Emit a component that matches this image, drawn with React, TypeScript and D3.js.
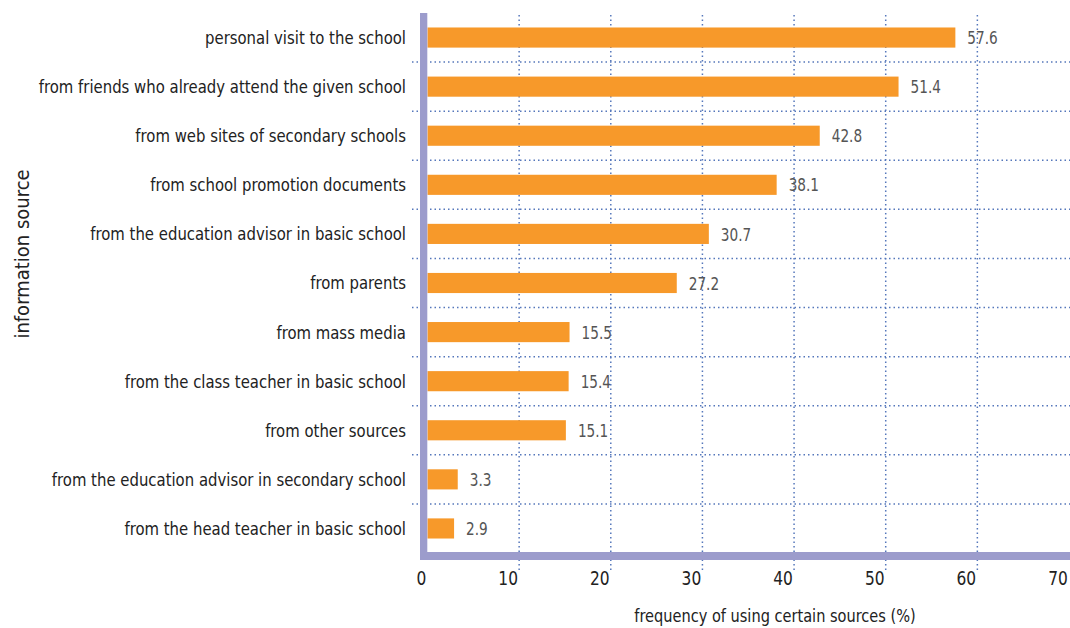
import React from "react";
import * as d3 from "d3";

const categories = [
  "personal visit to the school",
  "from friends who already attend the given school",
  "from web sites of secondary schools",
  "from school promotion documents",
  "from the education advisor in basic school",
  "from parents",
  "from mass media",
  "from the class teacher in basic school",
  "from other sources",
  "from the education advisor in secondary school",
  "from the head teacher in basic school",
];
const values = [57.6, 51.4, 42.8, 38.1, 30.7, 27.2, 15.5, 15.4, 15.1, 3.3, 2.9];
const xTicks = [0, 10, 20, 30, 40, 50, 60, 70];
const xTitle = "frequency of using certain sources (%)";
const yTitle = "information source";

const W = 1070;
const H = 628;
const FONT = "'DejaVu Sans Condensed', 'Liberation Sans Narrow', sans-serif";

function T(props: { x: number; y: number; sx?: number; rotate?: number; anchor?: string; size: number; fill: string; dy?: string; children: any }) {
  const { x, y, sx = 0.9, rotate = 0, anchor = "start", size, fill, dy, children } = props;
  return (
    <text
      transform={`translate(${x},${y}) rotate(${rotate}) scale(${sx},1)`}
      textAnchor={anchor as any}
      fontSize={size}
      fill={fill}
      dy={dy}
    >
      {children}
    </text>
  );
}

export default function App() {
  const x = d3.scaleLinear().domain([0, 70]).range([427.5, 1069]);
  const y = d3.scaleBand<string>().domain(categories).range([13, 553]).paddingInner(0.59).paddingOuter(0.295);
  const bandStep = y.step();
  const axisColor = "#9c9ccc";
  const gridColor = "#5577bb";
  return (
    <svg width={W} height={H} style={{ position: "absolute", left: 0, top: 0, background: "#fff" }} fontFamily={FONT}>
      {categories.slice(1).map((c, i) => {
        const yy = 13 + bandStep * (i + 1);
        return (
          <line key={"h" + i} x1={412} x2={W} y1={yy} y2={yy} stroke={gridColor} strokeWidth={1.5} strokeDasharray="1.5 3" />
        );
      })}
      {xTicks.slice(1, -1).map((t) => (
        <line key={"v" + t} x1={x(t)} x2={x(t)} y1={15} y2={571} stroke={gridColor} strokeWidth={1.5} strokeDasharray="1.5 3" />
      ))}
      {categories.map((c, i) => (
        <rect key={c} x={x(0)} y={y(c)} width={x(values[i]) - x(0)} height={y.bandwidth()} fill="#f7992a" />
      ))}
      {categories.map((c, i) => (
        <T key={"l" + c} x={x(values[i]) + 12} y={(y(c) as number) + y.bandwidth() / 2} dy="0.36em" size={18.5} fill="#555" sx={0.82}>
          {values[i].toFixed(1)}
        </T>
      ))}
      {categories.map((c) => (
        <T key={"c" + c} x={406} y={(y(c) as number) + y.bandwidth() / 2} dy="0.36em" anchor="end" size={18} fill="#222" sx={0.92}>
          {c}
        </T>
      ))}
      <rect x={420} y={13} width={7.3} height={547} fill={axisColor} />
      <rect x={420} y={552} width={W - 420} height={8} fill={axisColor} />
      {xTicks.map((t) => (
        <T key={"t" + t} x={t === 0 ? 421.5 : x(t) - 11} y={585} anchor="middle" size={19.5} fill="#222" sx={0.88}>
          {t}
        </T>
      ))}
      <T x={775} y={622} anchor="middle" size={18} fill="#222" sx={0.9}>{xTitle}</T>
      <T x={29} y={254} rotate={-90} anchor="middle" size={20} fill="#222" sx={1.0}>{yTitle}</T>
    </svg>
  );
}
